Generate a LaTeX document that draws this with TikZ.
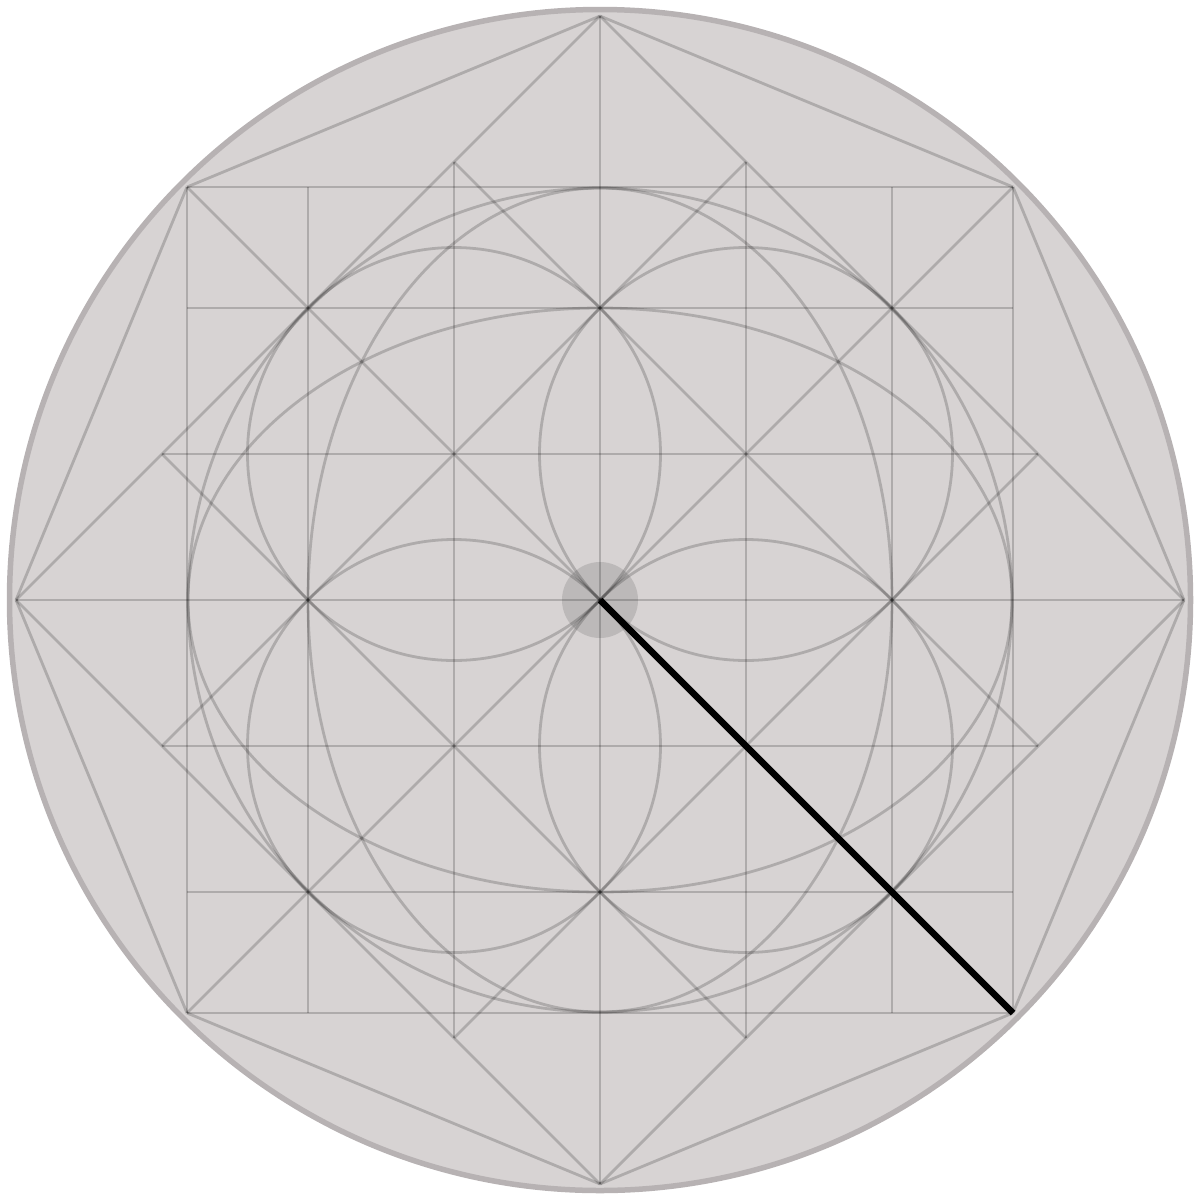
\documentclass[tikz,border=0pt]{standalone}
\definecolor{fillc}{RGB}{215,211,211}
\definecolor{rimc}{RGB}{183,178,179}
\tikzset{
  geo/.style={draw=black, draw opacity=0.19, line width=2.8pt},
  hub/.style={fill=black, fill opacity=0.12},
  radiusline/.style={draw=black, line width=6.5pt}
}
\begin{document}
\begin{tikzpicture}[x=1pt,y=-1pt]
\useasboundingbox (0,0) rectangle (1200,1200);
\begin{scope}[shift={(600,600)}]
\def\R{584}\def\S{413}\def\H{292}\def\Q{146}\def\P{438}
\coordinate (C) at (0,0);
\coordinate (T) at (0,-\R);
\coordinate (B) at (0,\R);
\coordinate (L) at (-\R,0);
\coordinate (Rt) at (\R,0);
\coordinate (NW) at (-\S,-\S);
\coordinate (NE) at (\S,-\S);
\coordinate (SE) at (\S,\S);
\coordinate (SW) at (-\S,\S);
% disc
\fill[fillc] (C) circle (590.5pt);
\draw[rimc, line width=5.5pt] (C) circle (590.5pt);
% square
\draw[geo] (NW) -- (NE);
\draw[geo] (NE) -- (SE);
\draw[geo] (SE) -- (SW);
\draw[geo] (SW) -- (NW);
% grid lines
\draw[geo] (-\S,-\H) -- (\S,-\H);
\draw[geo] (-\S,\H) -- (\S,\H);
\draw[geo] (-\P,-\Q) -- (\P,-\Q);
\draw[geo] (-\P,\Q) -- (\P,\Q);
\draw[geo] (L) -- (Rt);
\draw[geo] (-\H,-\S) -- (-\H,\S);
\draw[geo] (\H,-\S) -- (\H,\S);
\draw[geo] (-\Q,-\P) -- (-\Q,\P);
\draw[geo] (\Q,-\P) -- (\Q,\P);
\draw[geo] (T) -- (B);
% square diagonals
\draw[geo] (NW) -- (SE);
\draw[geo] (SW) -- (NE);
% diamond
\draw[geo] (T) -- (Rt);
\draw[geo] (Rt) -- (B);
\draw[geo] (B) -- (L);
\draw[geo] (L) -- (T);
% octagon
\draw[geo] (T) -- (NE);
\draw[geo] (NE) -- (Rt);
\draw[geo] (Rt) -- (SE);
\draw[geo] (SE) -- (B);
\draw[geo] (B) -- (SW);
\draw[geo] (SW) -- (L);
\draw[geo] (L) -- (NW);
\draw[geo] (NW) -- (T);
% inner tilted lines
\draw[geo] (-\Q,-\P) -- (\P,\Q);
\draw[geo] (-\P,-\Q) -- (\Q,\P);
\draw[geo] (\P,-\Q) -- (-\Q,\P);
\draw[geo] (-\P,\Q) -- (\Q,-\P);
% circles and ellipses
\draw[geo] (C) circle (412pt);
\draw[geo] (C) ellipse [x radius=412pt, y radius=292pt];
\draw[geo] (C) ellipse [x radius=292pt, y radius=412pt];
\draw[geo] (-\Q,-\Q) circle (206.5pt);
\draw[geo] (\Q,-\Q) circle (206.5pt);
\draw[geo] (-\Q,\Q) circle (206.5pt);
\draw[geo] (\Q,\Q) circle (206.5pt);
% hub and radius
\fill[hub] (C) circle (38pt);
\draw[radiusline] (C) -- (SE);
\end{scope}
\end{tikzpicture}
\end{document}
